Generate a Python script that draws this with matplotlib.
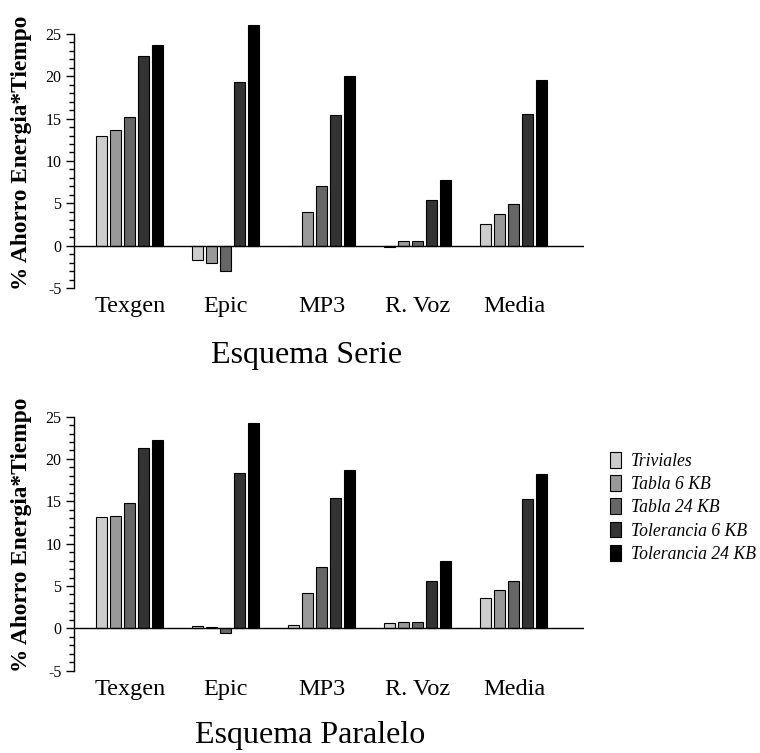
import numpy as np
import matplotlib.pyplot as plt
from matplotlib.patches import Patch

plt.rcParams['font.family'] = ['Liberation Serif', 'DejaVu Serif']
plt.rcParams['axes.unicode_minus'] = False

categorias = ["Texgen", "Epic", "MP3", "R. Voz", "Media"]
series = ["Triviales", "Tabla 6 KB", "Tabla 24 KB", "Tolerancia 6 KB", "Tolerancia 24 KB"]
colores = ["#cccccc", "#999999", "#666666", "#333333", "#000000"]

# Esquema Serie
triviales_s = [13.0, -1.7, 0.0, -0.2, 2.5]
tabla6_s = [13.6, -2.1, 4.0, 0.6, 3.7]
tabla24_s = [15.2, -3.0, 7.0, 0.5, 4.9]
toler6_s = [22.4, 19.3, 15.4, 5.4, 15.6]
toler24_s = [23.7, 26.1, 20.0, 7.8, 19.5]

# Esquema Paralelo
triviales_p = [13.1, 0.3, 0.4, 0.6, 3.6]
tabla6_p = [13.3, 0.2, 4.2, 0.7, 4.5]
tabla24_p = [14.8, -0.5, 7.2, 0.8, 5.6]
toler6_p = [21.3, 18.3, 15.4, 5.6, 15.3]
toler24_p = [22.2, 24.2, 18.7, 7.9, 18.2]

datos_s = [triviales_s, tabla6_s, tabla24_s, toler6_s, toler24_s]
datos_p = [triviales_p, tabla6_p, tabla24_p, toler6_p, toler24_p]


def dibuja(ax, datos):
    x = np.arange(len(categorias))
    paso = 14 / 96
    ancho = 11 / 96
    for i, vals in enumerate(datos):
        ax.bar(x + (i - 2) * paso, vals, ancho, color=colores[i],
               edgecolor="black", linewidth=0.8, zorder=2)
    ax.axhline(0, color="black", linewidth=1.0, zorder=3)
    ax.set_xlim(-0.583, 4.729)
    ax.set_ylim(-5, 27)
    ax.spines["top"].set_visible(False)
    ax.spines["right"].set_visible(False)
    ax.spines["bottom"].set_visible(False)
    ax.spines["left"].set_bounds(-5, 25)
    ax.spines["left"].set_linewidth(1.0)
    ax.set_yticks([-5, 0, 5, 10, 15, 20, 25])
    ax.set_yticks(np.arange(-5, 26, 1), minor=True)
    ax.tick_params(axis="y", which="major", length=6, width=1.0, labelsize=11.5, pad=3)
    ax.tick_params(axis="y", which="minor", length=3.5, width=1.0)
    ax.set_xticks(x)
    ax.set_xticklabels(categorias, fontsize=17.5)
    ax.tick_params(axis="x", length=0, pad=6)
    ax.set_ylabel("% Ahorro Energia*Tiempo", fontsize=16.8, fontweight="bold")
    ax.yaxis.set_label_coords(-0.083, 0.5)


fig = plt.figure(figsize=(7.6, 7.53), dpi=100)
ax1 = fig.add_axes([0.0974, 0.6175, 0.671, 0.36])
ax2 = fig.add_axes([0.0974, 0.1093, 0.671, 0.36])
dibuja(ax1, datos_s)
dibuja(ax2, datos_p)

fig.text(307 / 760, 1 - 355 / 753, "Esquema Serie", fontsize=23, ha="center", va="center")
fig.text(310 / 760, 1 - 735 / 753, "Esquema Paralelo", fontsize=23, ha="center", va="center")

handles = [Patch(facecolor=c, edgecolor="black", linewidth=0.8) for c in colores]
leg = fig.legend(handles, series, loc="upper left", bbox_to_anchor=(610 / 760, 1 - 452 / 753),
                 frameon=False, handlelength=0.6, handleheight=1.0, handletextpad=0.6,
                 labelspacing=0.3, borderpad=0, borderaxespad=0,
                 prop={"family": "Liberation Serif", "style": "italic", "size": 12.7})

fig.savefig("out.png", dpi=100)
